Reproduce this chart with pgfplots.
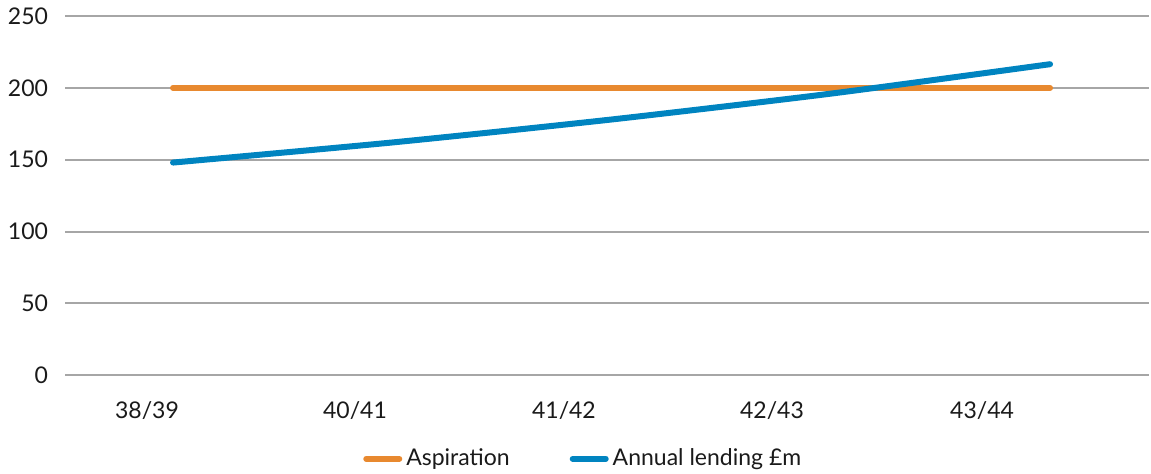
\documentclass[border=0pt]{standalone}
\usepackage{fontspec}
\setmainfont{Lato}
\usepackage{pgfplots}
\pgfplotsset{compat=1.18}
\definecolor{aspor}{HTML}{E8892F}
\definecolor{lendbl}{HTML}{0084C0}
\definecolor{gridg}{HTML}{A6A6A6}
\definecolor{txt}{HTML}{1A1A1A}
\begin{document}
\fontsize{11.5pt}{13pt}\selectfont
\begin{tikzpicture}
\begin{axis}[
  scale only axis,
  width=542pt, height=179.5pt,
  xmin=-0.4926, xmax=4.4515,
  ymin=0, ymax=250,
  axis line style={draw=none},
  major tick length=0pt,
  ymajorgrids,
  grid style={gridg, line width=1pt},
  ytick={0,50,100,150,200,250},
  yticklabels={0,50,100,150,200,250},
  xtick={-0.1186,0.830,1.783,2.732,3.690},
  xticklabels={38/39,40/41,41/42,42/43,43/44},
  ticklabel style={font=\fontsize{11.5pt}{13pt}\selectfont, text=txt},
  yticklabel style={xshift=-4.5pt},
  xticklabel style={yshift=-9pt},
  clip=false,
  legend columns=2,
  legend style={draw=none, fill=none, at={(0.479,-0.233)}, anchor=center,
    font=\fontsize{11.5pt}{13pt}\selectfont, text=txt,
    /tikz/every even column/.append style={column sep=28pt},
    inner sep=0pt},
  legend image code/.code={\draw[#1, line cap=round] (1.5pt,0pt) -- (18pt,0pt);},
]
\path (rel axis cs:-0.05997,1.0398) rectangle (rel axis cs:1.0018,-0.275);
\addplot[aspor, line width=3pt, line cap=round] coordinates {(0,200) (1,200) (2,200) (3,200) (4,200)};
\addlegendentry{Aspiration}
\addplot[lendbl, line width=3pt, line cap=round, smooth, tension=0.4] coordinates {(0,148) (1,162) (2,178) (3,196) (4,216.5)};
\addlegendentry{Annual lending £m}
\end{axis}
\end{tikzpicture}
\end{document}
